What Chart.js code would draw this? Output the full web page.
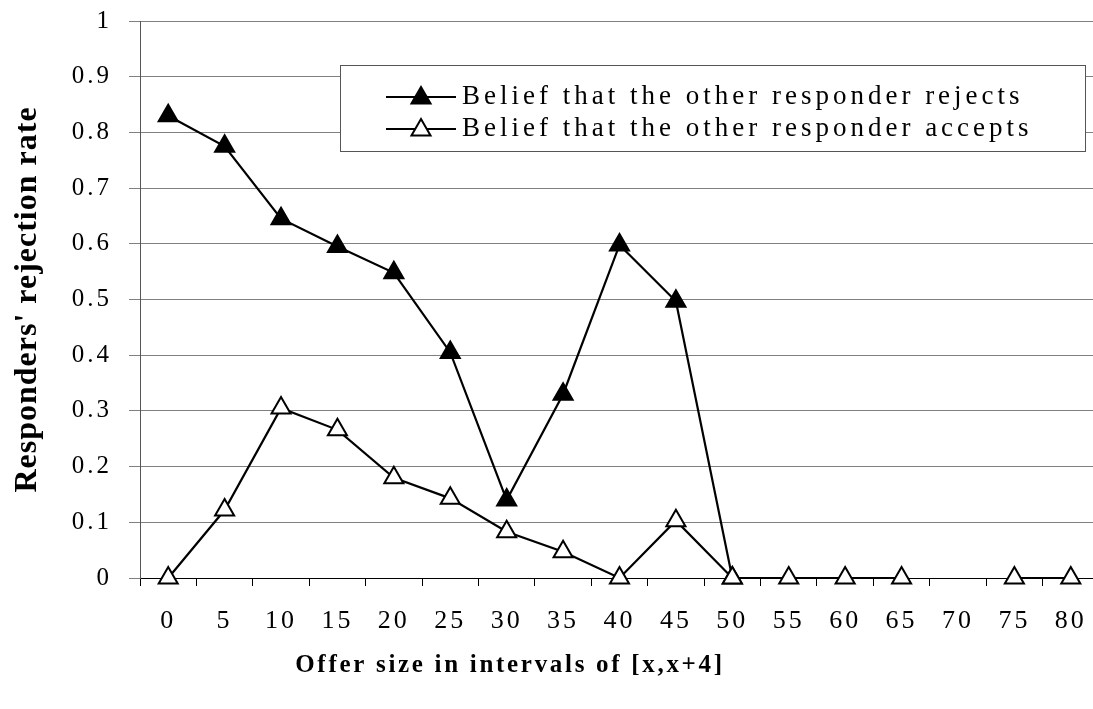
<!DOCTYPE html>
<html>
<head>
<meta charset="utf-8">
<script src="https://cdn.jsdelivr.net/npm/chart.js@4"></script>
<style>
  html, body { margin: 0; padding: 0; background: #fff; overflow: hidden; }
  #wrap { width: 1093px; height: 709px; position: relative; overflow: hidden; }
</style>
</head>
<body>
<div id="wrap"><canvas id="chart" width="1099" height="709"></canvas></div>
<script>
// ===== DATA =====
const offers = ['0', '5', '10', '15', '20', '25', '30', '35', '40', '45', '50', '55', '60', '65', '70', '75', '80'];
const rejectsBelief = [0.83, 0.775, 0.645, 0.595, 0.548, 0.405, 0.14, 0.33, 0.598, 0.497, 0, null, null, null, null, null, null];
const acceptsBelief = [0, 0.122, 0.305, 0.266, 0.18, 0.143, 0.083, 0.047, 0, 0.103, 0, 0, 0, 0, null, 0, 0];
const seriesNames = ['Belief that the other responder rejects', 'Belief that the other responder accepts'];
const xTitle = 'Offer size in intervals of [x,x+4]';
const yTitle = "Responders' rejection rate";

const SERIF = '"Liberation Serif", "Times New Roman", serif';

// letter spacing for tick labels; y title gets its own
const spacing = {
  id: 'spacing',
  beforeDraw(chart) { chart.ctx.letterSpacing = '3px'; },
  afterLayout(chart) {
    const y = chart.scales.y;
    if (y._patched) return;
    const orig = y.drawTitle;
    y.drawTitle = function () {
      const prev = this.ctx.letterSpacing;
      this.ctx.letterSpacing = '1px';
      orig.apply(this, arguments);
      this.ctx.letterSpacing = prev;
    };
    y._patched = true;
  },
};

// x title sits left of the plot centre in the original
const xTitlePlugin = {
  id: 'xTitle',
  afterDraw(chart) {
    const ctx = chart.ctx;
    ctx.save();
    ctx.letterSpacing = '2.7px';
    ctx.font = 'bold 25px ' + SERIF;
    ctx.fillStyle = '#000';
    ctx.textAlign = 'center';
    ctx.textBaseline = 'middle';
    ctx.fillText(xTitle, 510, 666);
    ctx.restore();
  },
};

// boxed legend inside the plot area
const boxLegend = {
  id: 'boxLegend',
  afterDraw(chart) {
    const ctx = chart.ctx;
    const box = { x: 340, y: 65, w: 745, h: 86 };
    ctx.save();
    ctx.fillStyle = '#fff';
    ctx.fillRect(box.x, box.y, box.w, box.h);
    ctx.strokeStyle = '#555';
    ctx.lineWidth = 1;
    ctx.strokeRect(box.x + 0.5, box.y + 0.5, box.w, box.h);
    chart.data.datasets.forEach((ds, i) => {
      const cy = 97 + i * 32;
      ctx.strokeStyle = '#000';
      ctx.lineWidth = 2;
      ctx.beginPath();
      ctx.moveTo(386, cy);
      ctx.lineTo(456, cy);
      ctx.stroke();
      ctx.fillStyle = ds.pointBackgroundColor;
      ctx.strokeStyle = '#000';
      Chart.helpers.drawPoint(ctx, { pointStyle: 'triangle', radius: 11, rotation: 0, borderWidth: 2 }, 421, cy + 1);
      ctx.fillStyle = '#000';
      ctx.letterSpacing = '4px';
      ctx.font = '27px ' + SERIF;
      ctx.textAlign = 'left';
      ctx.textBaseline = 'middle';
      ctx.fillText(ds.label, 462, cy);
    });
    ctx.restore();
  },
};

const lineStyle = {
  borderColor: '#000',
  borderWidth: 2.2,
  pointStyle: 'triangle',
  pointRadius: 11,
  pointHoverRadius: 11,
  pointBorderColor: '#000',
  pointBorderWidth: 2,
  tension: 0,
  spanGaps: false,
  clip: false,
};

new Chart(document.getElementById('chart'), {
  type: 'line',
  data: {
    labels: offers,
    datasets: [
      { ...lineStyle, label: seriesNames[0], data: rejectsBelief, pointBackgroundColor: '#000', order: 1 },
      { ...lineStyle, label: seriesNames[1], data: acceptsBelief, pointBackgroundColor: '#fff', order: 0 },
    ],
  },
  options: {
    responsive: false,
    animation: false,
    devicePixelRatio: 1,
    layout: { autoPadding: false, padding: { top: 21, right: 0, left: 0, bottom: 0 } },
    plugins: {
      legend: { display: false },
      tooltip: { enabled: false },
    },
    scales: {
      x: {
        offset: true,
        grid: { offset: true, drawOnChartArea: false, drawTicks: true, tickLength: 8, color: '#000' },
        border: { color: '#000', width: 1 },
        ticks: { color: '#000', font: { family: SERIF, size: 26 }, padding: 20, maxRotation: 0, autoSkip: false },
        afterFit: (s) => { s.height = 131; s.paddingLeft = 0; s.paddingRight = 0; },
      },
      y: {
        min: 0,
        max: 1,
        grid: { color: '#808080', tickLength: 11, drawTicks: true },
        border: { color: '#555', width: 1 },
        ticks: {
          stepSize: 0.1,
          color: '#000',
          font: { family: SERIF, size: 25 },
          padding: 17,
          callback: (v) => String(+v.toFixed(1)),
        },
        title: {
          display: true,
          text: yTitle,
          color: '#000',
          font: { family: SERIF, size: 32, weight: 'bold' },
          padding: { top: 9, bottom: 0 },
        },
        afterFit: (s) => { s.width = 140; s.paddingTop = 0; s.paddingBottom = 0; },
      },
    },
  },
  plugins: [spacing, xTitlePlugin, boxLegend],
});
</script>
</body>
</html>
